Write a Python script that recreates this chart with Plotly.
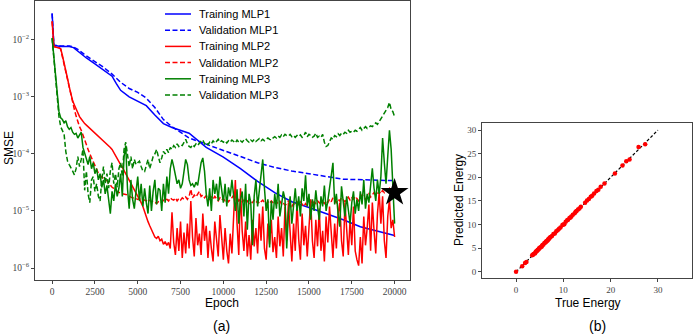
import plotly.graph_objects as go

# ---- panel (a): SMSE vs epoch ----
epochs = list(range(0, 20001, 100))

blue_epochs = [0, 100, 500, 1000, 1250, 1500, 2000, 2500, 3000, 3500, 3750, 4000, 4500, 5000, 5500,
               6000, 6500, 7000, 8000, 9000, 10000, 11000, 12000, 13000, 14000, 15000, 16000, 16500,
               17000, 18000, 19000, 20000]
train_mlp1 = [2.9e-2, 8.0e-3, 7.6e-3, 7.6e-3, 7.3e-3, 6.3e-3, 4.8e-3, 3.8e-3, 3.0e-3, 2.3e-3, 1.7e-3,
              1.3e-3, 1.0e-3, 8.5e-4, 7.0e-4, 4.8e-4, 3.4e-4, 2.9e-4, 2.3e-4, 1.3e-4, 8.8e-5, 5.5e-5,
              3.3e-5, 2.1e-5, 1.45e-5, 1.15e-5, 9.0e-6, 8.0e-6, 7.0e-6, 5.3e-6, 4.4e-6, 3.7e-6]
val_mlp1 = [2.9e-2, 8.0e-3, 7.8e-3, 7.8e-3, 7.5e-3, 6.8e-3, 5.2e-3, 4.2e-3, 3.3e-3, 2.5e-3, 2.1e-3,
            1.8e-3, 1.4e-3, 1.2e-3, 9.5e-4, 6.5e-4, 4.0e-4, 3.0e-4, 1.9e-4, 1.5e-4, 1.15e-4, 9.0e-5,
            7.0e-5, 5.8e-5, 5.0e-5, 4.5e-5, 4.1e-5, 3.8e-5, 3.6e-5, 3.5e-5, 3.45e-5, 3.4e-5]

train_mlp2 = [
    2.1e-2, 7.6e-3, 7.5e-3, 7.4e-3, 7.3e-3, 7.0e-3, 5.3e-3, 4.0e-3, 3.0e-3, 2.1e-3,
    1.5e-3, 1.1e-3, 8.5e-4, 7.2e-4, 6.0e-4, 5.0e-4, 4.5e-4, 4.1e-4, 3.7e-4, 3.4e-4,
    3.2e-4, 3.0e-4, 2.8e-4, 2.7e-4, 2.55e-4, 2.4e-4, 2.25e-4, 2.05e-4, 1.9e-4, 1.8e-4,
    1.7e-4, 1.6e-4, 1.5e-4, 1.4e-4, 1.3e-4, 1.2e-4, 1.05e-4, 9.5e-5, 8.3e-5, 7.3e-5,
    6.5e-5, 5.8e-5, 5.1e-5, 4.5e-5, 4.0e-5, 3.6e-5, 3.2e-5, 2.8e-5, 2.4e-5, 2.1e-5,
    1.8e-5, 1.6e-5, 1.4e-5, 1.2e-5, 9.5e-6, 8.0e-6, 6.5e-6, 5.5e-6, 4.7e-6, 4.0e-6,
    3.5e-6, 3.3e-6, 3.6e-6, 3.0e-6, 3.2e-6, 2.6e-6, 2.9e-6, 2.5e-6, 2.8e-6, 2.2e-6,
    9.5e-6, 2.8e-6, 1.7e-6, 5.0e-6, 2.0e-6, 6.5e-6, 1.5e-6, 4.2e-6, 1.8e-6, 6.0e-6,
    2.2e-6, 1.5e-5, 3.5e-6, 1.6e-6, 7.5e-6, 2.5e-6, 4.0e-6, 1.7e-6, 9.0e-6, 3.0e-6,
    5.5e-6, 1.5e-6, 4.5e-6, 2.2e-6, 1.3e-6, 6.5e-6, 2.8e-6, 1.6e-6, 8.5e-6, 3.2e-6,
    1.4e-6, 5.0e-6, 2.0e-6, 1.2e-6, 4.0e-6, 1.8e-6, 9.0e-6, 3.5e-5, 6.0e-6, 1.7e-6,
    2.5e-5, 4.5e-6, 2.0e-6, 6.5e-6, 1.6e-6, 3.8e-6, 1.4e-6, 7.0e-6, 2.4e-6, 5.0e-6,
    1.8e-6, 9.0e-6, 3.0e-6, 1.2e-5, 2.2e-6, 1.4e-6, 6.0e-6, 2.6e-6, 7.0e-6, 1.9e-6,
    3.5e-6, 1.5e-6, 8.0e-6, 2.4e-6, 5.0e-6, 1.6e-6, 1.2e-5, 3.0e-6, 1.4e-5, 4.5e-6,
    1.3e-6, 6.0e-6, 2.0e-6, 1.5e-5, 3.2e-6, 1.4e-6, 9.0e-6, 2.5e-6, 5.5e-6, 1.6e-6,
    5.3e-6, 1.6e-5, 3.0e-6, 1.5e-6, 7.0e-6, 2.4e-6, 1.1e-5, 2.0e-6, 4.5e-6, 1.3e-6,
    8.0e-6, 2.8e-6, 1.2e-5, 3.5e-6, 1.5e-6, 6.0e-6, 2.2e-6, 9.0e-6, 1.4e-5, 3.0e-6,
    1.6e-6, 1.4e-5, 4.0e-6, 1.7e-6, 7.0e-6, 2.5e-6, 1.2e-5, 2.0e-6, 1.4e-6, 1.1e-6,
    3.5e-6, 1.2e-6, 8.0e-6, 2.5e-6, 5.0e-6, 1.3e-5, 2.0e-6, 1.4e-5, 4.5e-6, 1.8e-6,
    9.0e-6, 2.1e-5, 6.0e-6, 1.8e-5, 3.0e-6, 1.5e-6, 8.0e-6, 1.6e-5, 5.0e-6, 7.0e-6,
    3.5e-6]

val_mlp2 = [
    2.1e-2, 7.6e-3, 7.5e-3, 7.4e-3, 7.3e-3, 6.8e-3, 5.0e-3, 3.6e-3, 2.6e-3, 1.9e-3,
    1.4e-3, 1.0e-3, 7.5e-4, 6.0e-4, 4.6e-4, 3.6e-4, 3.0e-4, 2.6e-4, 2.1e-4, 1.7e-4,
    1.4e-4, 1.2e-4, 1.0e-4, 8.5e-5, 7.0e-5, 6.0e-5, 5.2e-5, 4.6e-5, 4.2e-5, 3.9e-5,
    3.7e-5, 3.5e-5, 3.4e-5, 3.1e-5, 2.8e-5, 2.6e-5, 2.5e-5, 2.3e-5, 2.2e-5, 2.1e-5,
    2.1e-5, 2.0e-5, 2.0e-5, 1.95e-5, 1.9e-5, 1.8e-5, 1.75e-5, 1.7e-5, 1.7e-5, 1.65e-5,
    1.6e-5, 1.65e-5, 1.55e-5, 1.6e-5, 1.55e-5, 1.5e-5, 1.6e-5, 1.5e-5, 1.45e-5, 1.5e-5,
    1.4e-5, 1.35e-5, 1.45e-5, 1.5e-5, 1.4e-5, 1.55e-5, 1.5e-5, 1.6e-5, 1.5e-5, 1.7e-5,
    1.6e-5, 1.55e-5, 1.7e-5, 1.5e-5, 1.65e-5, 1.55e-5, 1.7e-5, 1.6e-5, 1.75e-5, 1.6e-5,
    1.8e-5, 2.4e-5, 1.7e-5, 1.9e-5, 1.75e-5, 2.0e-5, 2.2e-5, 1.8e-5, 1.9e-5, 1.7e-5,
    1.85e-5, 1.7e-5, 1.6e-5, 1.75e-5, 1.6e-5, 1.8e-5, 1.65e-5, 1.5e-5, 1.7e-5, 1.55e-5,
    1.65e-5, 1.5e-5, 1.6e-5, 1.45e-5, 1.6e-5, 1.7e-5, 1.9e-5, 2.2e-5, 1.7e-5, 1.5e-5,
    1.6e-5, 1.45e-5, 1.55e-5, 1.4e-5, 1.5e-5, 1.35e-5, 1.45e-5, 1.4e-5, 1.55e-5, 1.4e-5,
    1.5e-5, 1.35e-5, 1.45e-5, 1.55e-5, 1.4e-5, 1.3e-5, 1.45e-5, 1.35e-5, 1.5e-5, 1.4e-5,
    1.3e-5, 1.45e-5, 1.35e-5, 1.5e-5, 1.3e-5, 1.4e-5, 1.25e-5, 1.35e-5, 1.5e-5, 1.3e-5,
    1.2e-5, 1.35e-5, 1.25e-5, 1.4e-5, 1.3e-5, 1.45e-5, 1.3e-5, 1.2e-5, 1.35e-5, 1.25e-5,
    1.4e-5, 1.5e-5, 1.3e-5, 1.45e-5, 1.35e-5, 1.5e-5, 1.4e-5, 1.3e-5, 1.45e-5, 1.35e-5,
    1.5e-5, 1.4e-5, 1.6e-5, 1.45e-5, 1.7e-5, 1.5e-5, 1.4e-5, 1.6e-5, 1.5e-5, 1.7e-5,
    1.55e-5, 1.45e-5, 1.6e-5, 1.75e-5, 1.55e-5, 1.7e-5, 1.6e-5, 1.8e-5, 1.65e-5, 1.5e-5,
    1.7e-5, 1.9e-5, 1.75e-5, 1.6e-5, 1.8e-5, 2.0e-5, 1.75e-5, 1.9e-5, 2.1e-5, 1.9e-5,
    2.0e-5, 2.2e-5, 2.0e-5, 2.3e-5, 2.1e-5, 2.4e-5, 2.2e-5, 2.5e-5, 2.3e-5, 2.2e-5,
    2.0e-5]

train_mlp3 = [
    1.07e-2, 5.0e-3, 2.3e-3, 1.0e-3, 5.5e-4, 4.3e-4, 4.0e-4, 3.5e-4, 3.8e-4, 3.0e-4,
    2.7e-4, 2.9e-4, 2.4e-4, 2.2e-4, 2.3e-4, 1.9e-4, 2.1e-4, 2.4e-4, 1.3e-4, 1.0e-4,
    8.0e-5, 6.5e-5, 9.0e-5, 5.5e-5, 7.0e-5, 4.5e-5, 5.5e-5, 3.5e-5, 4.5e-5, 2.6e-5,
    3.5e-5, 2.0e-5, 2.8e-5, 1.6e-5, 9.0e-6, 2.2e-5, 1.5e-5, 3.0e-5, 1.8e-5, 2.5e-5,
    4.5e-5, 1.8e-5, 9.0e-5, 1.4e-4, 2.5e-5, 1.1e-5, 3.5e-5, 1.6e-5, 1.1e-5, 2.2e-5,
    4.0e-5, 1.5e-5, 3.0e-5, 1.2e-5, 2.5e-5, 1.4e-5, 9.0e-6, 2.8e-5, 1.0e-5, 2.2e-5,
    3.5e-5, 1.3e-5, 2.5e-5, 2.3e-5, 1.0e-5, 3.0e-5, 1.4e-5, 4.0e-5, 2.0e-5, 5.5e-5,
    8.0e-5, 6.0e-5, 4.5e-5, 3.0e-5, 3.5e-5, 2.5e-5, 3.0e-5, 5.0e-5, 8.0e-5, 6.5e-5,
    3.5e-5, 2.8e-5, 3.0e-5, 2.6e-5, 3.2e-5, 2.8e-5, 4.5e-5, 7.0e-5, 8.5e-5, 5.0e-5,
    2.0e-5, 1.2e-5, 2.5e-5, 1.0e-5, 3.5e-5, 2.0e-5, 3.0e-5, 1.5e-5, 4.0e-5, 2.2e-5,
    1.4e-5, 3.0e-5, 1.2e-5, 2.6e-5, 1.8e-5, 3.5e-5, 2.0e-5, 1.0e-5, 2.4e-5, 6.0e-6,
    1.6e-5, 2.2e-5, 8.0e-6, 3.0e-5, 4.7e-6, 2.0e-5, 1.4e-5, 2.5e-6, 1.8e-5, 3.5e-5,
    1.2e-5, 2.5e-5, 4.0e-5, 8.0e-5, 2.5e-5, 1.0e-5, 1.6e-5, 2.3e-6, 1.5e-5, 7.0e-6,
    2.0e-5, 1.1e-5, 3.0e-5, 8.0e-6, 1.3e-5, 2.2e-5, 1.6e-5, 2.2e-6, 9.0e-6, 1.8e-5,
    6.0e-6, 1.2e-5, 2.5e-5, 1.0e-5, 1.8e-5, 8.0e-6, 2.5e-5, 1.5e-5, 4.2e-5, 1.2e-5,
    2.0e-5, 7.0e-6, 1.6e-5, 1.0e-5, 2.3e-5, 1.2e-5, 7.0e-6, 1.8e-5, 1.2e-5, 2.8e-5,
    1.0e-5, 1.5e-5, 2.5e-5, 4.5e-5, 7.0e-5, 1.3e-5, 2.0e-5, 9.0e-6, 5.3e-6, 2.7e-5,
    1.5e-5, 8.0e-6, 1.8e-5, 1.0e-5, 6.0e-6, 1.4e-5, 2.2e-5, 9.0e-6, 1.6e-5, 1.0e-5,
    2.2e-5, 1.3e-5, 3.5e-5, 1.1e-5, 2.0e-5, 1.4e-5, 3.0e-5, 5.6e-5, 2.5e-5, 1.5e-5,
    3.5e-5, 2.0e-5, 4.0e-5, 1.9e-4, 7.0e-5, 3.0e-5, 9.0e-5, 2.6e-4, 1.2e-4, 2.5e-5,
    6.0e-6]

val_mlp3 = [
    1.07e-2, 4.5e-3, 1.8e-3, 8.0e-4, 4.5e-4, 3.0e-4, 2.5e-4, 2.2e-4, 1.1e-4, 7.5e-5,
    6.5e-5, 5.5e-5, 5.0e-5, 4.3e-5, 5.5e-5, 9.0e-5, 6.0e-5, 8.0e-5, 1.2e-4, 2.3e-5,
    5.0e-5, 2.0e-5, 1.4e-5, 3.5e-5, 4.0e-5, 2.2e-5, 3.0e-5, 1.8e-5, 1.5e-5, 3.5e-5,
    6.0e-5, 3.0e-5, 4.5e-5, 2.5e-5, 5.0e-5, 7.0e-5, 3.0e-5, 4.5e-5, 2.6e-5, 5.5e-5,
    7.0e-5, 4.0e-5, 1.2e-4, 1.6e-4, 1.0e-4, 6.0e-5, 9.0e-5, 5.5e-5, 8.0e-5, 6.5e-5,
    7.0e-5, 7.5e-5, 6.0e-5, 5.0e-5, 4.9e-5, 6.5e-5, 8.0e-5, 5.5e-5, 7.0e-5, 9.0e-5,
    1.0e-4, 1.2e-4, 9.0e-5, 7.0e-5, 8.5e-5, 1.1e-4, 1.0e-4, 1.2e-4, 1.05e-4, 1.3e-4,
    1.2e-4, 1.4e-4, 1.3e-4, 1.5e-4, 1.35e-4, 1.45e-4, 1.4e-4, 1.6e-4, 1.8e-4, 1.5e-4,
    1.35e-4, 1.3e-4, 1.45e-4, 1.35e-4, 1.5e-4, 1.4e-4, 1.55e-4, 1.7e-4, 1.75e-4, 1.5e-4,
    1.6e-4, 1.45e-4, 1.6e-4, 1.5e-4, 1.7e-4, 1.55e-4, 1.65e-4, 1.8e-4, 1.6e-4, 1.7e-4,
    1.6e-4, 1.7e-4, 1.55e-4, 1.7e-4, 1.6e-4, 1.75e-4, 1.65e-4, 1.55e-4, 1.75e-4, 1.6e-4,
    1.7e-4, 1.6e-4, 1.75e-4, 1.85e-4, 1.7e-4, 1.6e-4, 1.75e-4, 1.65e-4, 1.8e-4, 1.65e-4,
    1.75e-4, 1.85e-4, 1.7e-4, 1.8e-4, 1.7e-4, 1.8e-4, 1.9e-4, 1.8e-4, 1.75e-4, 1.9e-4,
    2.0e-4, 1.9e-4, 2.05e-4, 1.95e-4, 2.15e-4, 2.0e-4, 2.2e-4, 2.1e-4, 2.05e-4, 2.2e-4,
    2.0e-4, 2.1e-4, 1.95e-4, 2.1e-4, 2.0e-4, 2.15e-4, 1.95e-4, 2.1e-4, 2.4e-4, 2.0e-4,
    2.2e-4, 2.1e-4, 1.95e-4, 2.05e-4, 2.3e-4, 1.95e-4, 2.05e-4, 1.95e-4, 2.2e-4, 1.6e-4,
    1.35e-4, 1.4e-4, 1.7e-4, 1.9e-4, 1.8e-4, 2.1e-4, 2.0e-4, 2.25e-4, 2.1e-4, 2.3e-4,
    2.2e-4, 2.4e-4, 2.3e-4, 2.6e-4, 2.4e-4, 2.5e-4, 2.4e-4, 2.6e-4, 2.5e-4, 2.7e-4,
    2.9e-4, 2.6e-4, 2.8e-4, 3.0e-4, 2.8e-4, 3.0e-4, 3.1e-4, 3.0e-4, 3.2e-4, 3.5e-4,
    3.3e-4, 3.7e-4, 4.0e-4, 4.5e-4, 5.0e-4, 5.8e-4, 6.5e-4, 8.0e-4, 6.0e-4, 5.5e-4,
    4.5e-4]

star_epoch = [20000]
star_smse = [2.1e-5]

# ---- panel (b): predicted vs true energy ----
true_energy = [0.0, 1.3, 1.9, 2.2, 3.4, 3.7, 4.0, 4.2, 4.4, 4.6, 4.8, 5.0, 5.2, 5.4, 5.6, 5.8, 6.0,
               6.2, 6.4, 6.6, 6.8, 7.0, 7.3, 7.6, 7.9, 8.2, 8.5, 8.8, 9.4, 9.8, 10.2, 10.5, 10.8,
               11.0, 11.3, 11.7, 12.0, 12.4, 12.8, 13.1, 13.4, 13.7, 14.6, 15.0, 15.4, 15.8, 16.1,
               17.0, 17.4, 17.9, 18.7, 20.9, 22.5, 23.3, 24.0, 25.9, 27.3,
               3.6, 4.1, 4.5, 4.9, 5.5, 6.3, 6.7, 7.1, 9.1, 10.0, 11.5, 12.6, 16.5]
pred_energy = [0.0, 1.2, 1.9, 2.1, 3.5, 3.8, 3.9, 4.3, 4.4, 4.7, 4.8, 5.1, 5.2, 5.3, 5.7, 5.8, 6.1,
               6.2, 6.5, 6.6, 6.9, 7.0, 7.4, 7.6, 8.0, 8.1, 8.6, 8.8, 9.4, 9.9, 10.1, 10.6, 10.9,
               11.0, 11.4, 11.7, 12.1, 12.4, 12.9, 13.2, 13.4, 13.8, 14.6, 15.1, 15.4, 15.9, 16.1,
               17.1, 17.4, 18.0, 18.7, 20.8, 22.5, 23.4, 23.8, 26.4, 27.0,
               3.6, 4.1, 4.5, 5.0, 5.5, 6.3, 6.7, 7.2, 9.1, 10.0, 11.5, 12.7, 16.6]
ideal_line = [0, 30]

assert len(train_mlp2) == len(epochs) == len(val_mlp2) == len(train_mlp3) == len(val_mlp3)

W, H = 693, 336
fig = go.Figure()
dash = "5px,2.5px"
series = [
    ("Training MLP1", blue_epochs, train_mlp1, "#0000ff", "solid"),
    ("Validation MLP1", blue_epochs, val_mlp1, "#0000ff", dash),
    ("Training MLP2", epochs, train_mlp2, "#ff0000", "solid"),
    ("Validation MLP2", epochs, val_mlp2, "#ff0000", dash),
    ("Training MLP3", epochs, train_mlp3, "#008000", "solid"),
    ("Validation MLP3", epochs, val_mlp3, "#008000", dash),
]
for i, (name, xs, ys, col, ds) in enumerate(series):
    fig.add_trace(go.Scatter(x=xs, y=ys, mode="lines", name=name, showlegend=False,
                             line=dict(color=col, width=1.5, dash=ds),
                             xaxis="x", yaxis="y"))
    # legend drawn by hand so the row spacing matches the matplotlib one
    yy = 1 - (14 + 16.2 * i) / H
    fig.add_shape(type="line", xref="paper", yref="paper", x0=165 / W, x1=191 / W,
                  y0=yy, y1=yy, line=dict(color=col, width=1.5, dash=ds))
    fig.add_annotation(text=name, x=197 / W, y=yy, xref="paper", yref="paper",
                       xanchor="left", yanchor="middle", showarrow=False,
                       font=dict(size=11))

fig.add_trace(go.Scatter(x=star_epoch, y=star_smse, mode="markers", showlegend=False,
                         marker=dict(symbol="star", size=21, color="black"),
                         xaxis="x", yaxis="y"))

fig.add_trace(go.Scatter(x=ideal_line, y=ideal_line, mode="lines", showlegend=False,
                         line=dict(color="black", width=1.2, dash="3px,2px"),
                         xaxis="x2", yaxis="y2"))
fig.add_trace(go.Scatter(x=true_energy, y=pred_energy, mode="markers", showlegend=False,
                         marker=dict(color="#ff0000", size=4.5),
                         xaxis="x2", yaxis="y2"))

def frame(size):
    return dict(showline=True, linecolor="#444", linewidth=1, mirror=True, ticks="outside",
                ticklen=3, tickcolor="#444", showgrid=False, zeroline=False,
                tickfont=dict(family="Liberation Serif", size=size, color="#444"))

fig.update_layout(
    width=W, height=H,
    margin=dict(l=0, r=0, t=0, b=0),
    paper_bgcolor="white", plot_bgcolor="white",
    font=dict(family="Liberation Sans", color="black"),
    showlegend=False,
    xaxis=dict(domain=[35 / W, 410 / W], range=[-1000, 20900],
               tickvals=[0, 2500, 5000, 7500, 10000, 12500, 15000, 17500, 20000],
               tickformat="d", anchor="y", **frame(9.5)),
    yaxis=dict(domain=[1 - 280 / H, 1 - 1 / H], type="log", range=[-6.21, -1.32],
               tickvals=[1e-6, 1e-5, 1e-4, 1e-3, 1e-2],
               ticktext=["10<sup>−6</sup>", "10<sup>−5</sup>", "10<sup>−4</sup>",
                         "10<sup>−3</sup>", "10<sup>−2</sup>"],
               anchor="x", **frame(9.5)),
    xaxis2=dict(domain=[482 / W, 692 / W], range=[-7.2, 37.2], tickvals=[0, 10, 20, 30],
                anchor="y2", **frame(9)),
    yaxis2=dict(domain=[1 - 278 / H, 1 - 123 / H], range=[-1.3, 31.5],
                tickvals=[0, 5, 10, 15, 20, 25, 30], anchor="x2", **frame(9)),
)

labels = [
    ("Epoch", 222, 303, 0, 12),
    ("SMSE", 9, 148, -90, 12),
    ("(a)", 222, 326, 0, 14),
    ("True Energy", 588, 303, 0, 12),
    ("Predicted Energy", 459, 200, -90, 12),
    ("(b)", 597, 326, 0, 14),
]
for text, px, py, ang, sz in labels:
    fig.add_annotation(text=text, x=px / W, y=1 - py / H, xref="paper", yref="paper",
                       xanchor="center", yanchor="middle",
                       showarrow=False, textangle=ang, font=dict(size=sz))

fig.write_html("out.html", config={"displayModeBar": False},
               post_script="document.body.style.margin='0px';")
